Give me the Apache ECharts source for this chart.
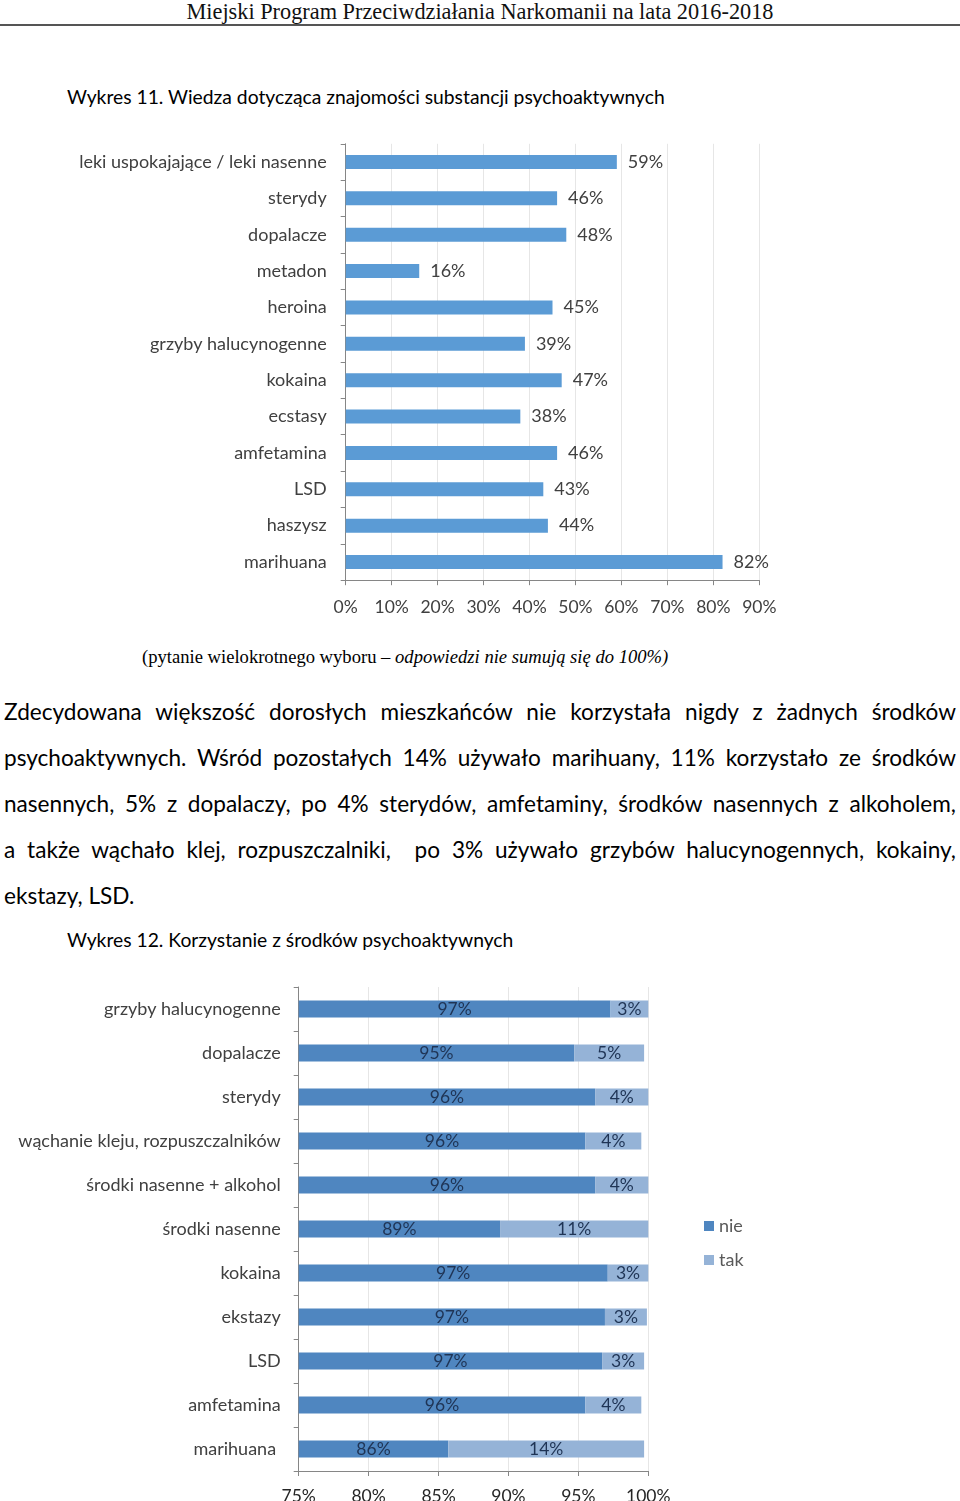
<!DOCTYPE html>
<html>
<head>
<meta charset="utf-8">
<script src="https://cdn.jsdelivr.net/npm/echarts@6/dist/echarts.min.js"></script>
<style>
body { margin: 0; background: #fff; }
.page { position: relative; width: 960px; height: 1501px; overflow: hidden; font-family: Lato, "Open Sans", sans-serif; color: #000; }
.hdr { position: absolute; left: 0; top: 0; width: 960px; text-align: center; font-family: "Liberation Serif", serif; font-size: 22.3px; line-height: 24px; color: #111; }
.rule { position: absolute; left: 0; top: 24px; width: 960px; height: 2px; background: #555; }
.ttl { position: absolute; left: 67px; font-size: 19.3px; line-height: 24px; }
.cap { position: absolute; left: 142px; top: 645px; font-family: "Liberation Serif", serif; font-size: 18.6px; line-height: 24px; }
.para { position: absolute; left: 4px; top: 689px; width: 952px; font-size: 22.6px; line-height: 46px; }
.para div { text-align: justify; text-align-last: justify; white-space: pre-wrap; }
.para div.last { text-align-last: left; }
#chart1 { position: absolute; left: 0; top: 130px; width: 960px; height: 500px; }
#chart2 { position: absolute; left: 0; top: 960px; width: 960px; height: 541px; }
</style>
</head>
<body>
<div class="page">
    <div class="hdr">Miejski Program Przeciwdziałania Narkomanii na lata 2016-2018</div>
    <div class="rule"></div>
    <div class="ttl" style="top:85px">Wykres 11. Wiedza dotycząca znajomości substancji psychoaktywnych</div>
    <div id="chart1"></div>
    <div class="cap">(pytanie wielokrotnego wyboru – <i>odpowiedzi nie sumują się do 100%)</i></div>
    <div class="para">
        <div>Zdecydowana większość dorosłych mieszkańców nie korzystała nigdy z żadnych środków</div>
        <div>psychoaktywnych. Wśród pozostałych 14% używało marihuany, 11% korzystało ze środków</div>
        <div>nasennych, 5% z dopalaczy, po 4% sterydów, amfetaminy, środków nasennych z alkoholem,</div>
        <div>a także wąchało klej, rozpuszczalniki,  po 3% używało grzybów halucynogennych, kokainy,</div>
        <div class="last">ekstazy, LSD.</div>
    </div>
    <div class="ttl" style="top:928px">Wykres 12. Korzystanie z środków psychoaktywnych</div>
    <div id="chart2"></div>
</div>
<script>
// Wykres 11 - wiedza (od góry do dołu)
const substancje = ['leki uspokajające / leki nasenne', 'sterydy', 'dopalacze', 'metadon', 'heroina',
    'grzyby halucynogenne', 'kokaina', 'ecstasy', 'amfetamina', 'LSD', 'haszysz', 'marihuana'];
const wiedza = [59, 46, 48, 16, 45, 39, 47, 38, 46, 43, 44, 82];

// Wykres 12 - korzystanie (od góry do dołu)
const srodki = ['grzyby halucynogenne', 'dopalacze', 'sterydy', 'wąchanie kleju, rozpuszczalników',
    'środki nasenne + alkohol', 'środki nasenne', 'kokaina', 'ekstazy', 'LSD', 'amfetamina', 'marihuana '];
const nie = [97.3, 94.7, 96.2, 95.5, 96.2, 89.4, 97.1, 96.9, 96.7, 95.5, 85.7];
const tak = [2.8, 5.0, 3.9, 4.0, 3.9, 10.6, 2.9, 3.0, 3.0, 4.0, 14.0];

const FONT = 'Lato';
const pct = (p) => Math.round(p.value) + '%';

let chart1 = echarts.init(document.getElementById('chart1'));
chart1.setOption({
    animation: false,
    grid: {left: 345.7, top: 13.8, width: 413.6, height: 436.4, outerBoundsMode: 'none'},
    xAxis: {
        type: 'value', min: 0, max: 90, interval: 10,
        axisLine: {show: true, lineStyle: {color: '#868686'}},
        axisTick: {show: true, length: 5, lineStyle: {color: '#868686'}},
        axisLabel: {formatter: '{value}%', fontFamily: FONT, fontSize: 17.5, color: '#404040', margin: 18},
        splitLine: {show: true, lineStyle: {color: '#e6e6e6'}}
    },
    yAxis: {
        type: 'category', data: substancje, inverse: true,
        axisLine: {show: true, lineStyle: {color: '#868686'}},
        axisTick: {show: true, length: 5, lineStyle: {color: '#868686'}},
        axisLabel: {fontFamily: FONT, fontSize: 18, color: '#404040', margin: 19}
    },
    series: [{
        type: 'bar', data: wiedza, barWidth: 14,
        itemStyle: {color: '#5b9bd5'},
        label: {show: true, position: 'right', distance: 11, formatter: pct,
            fontFamily: FONT, fontSize: 18, color: '#404040'}
    }]
});

let chart2 = echarts.init(document.getElementById('chart2'));
const lbl2 = {show: true, position: 'inside', formatter: pct, fontFamily: FONT, fontSize: 17.5, color: '#1f3455'};
chart2.setOption({
    animation: false,
    legend: {
        data: ['nie', 'tak'], orient: 'vertical', left: 699, top: 252, itemGap: 16,
        icon: 'rect', itemWidth: 10, itemHeight: 10,
        textStyle: {fontFamily: FONT, fontSize: 18, color: '#595959'}
    },
    grid: {left: 298.7, top: 27, width: 349.6, height: 484, outerBoundsMode: 'none'},
    xAxis: {
        type: 'value', min: 75, max: 100, interval: 5,
        axisLine: {show: true, lineStyle: {color: '#868686'}},
        axisTick: {show: true, length: 5, lineStyle: {color: '#868686'}},
        axisLabel: {formatter: '{value}%', fontFamily: FONT, fontSize: 17.5, color: '#262626', margin: 16},
        splitLine: {show: true, lineStyle: {color: '#e6e6e6'}}
    },
    yAxis: {
        type: 'category', data: srodki, inverse: true,
        axisLine: {show: true, lineStyle: {color: '#868686'}},
        axisTick: {show: true, length: 5, lineStyle: {color: '#868686'}},
        axisLabel: {fontFamily: FONT, fontSize: 18, color: '#404040', margin: 18}
    },
    series: [
        {name: 'nie', type: 'bar', stack: 'razem', data: nie, barWidth: 17,
            itemStyle: {color: '#4f86c0'}, label: lbl2},
        {name: 'tak', type: 'bar', stack: 'razem', data: tak, barWidth: 17,
            itemStyle: {color: '#95b3d7'}, label: lbl2}
    ]
});
</script>
</body>
</html>
